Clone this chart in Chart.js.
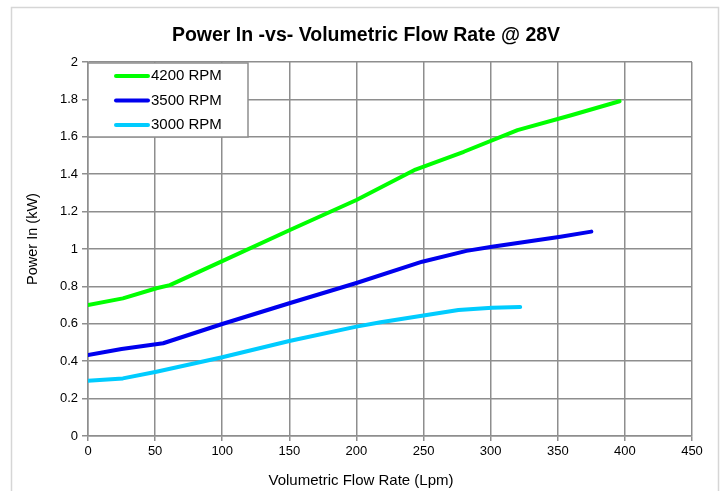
<!DOCTYPE html>
<html>
<head>
<meta charset="utf-8">
<script src="https://cdn.jsdelivr.net/npm/chart.js@4/dist/chart.umd.min.js"></script>
<style>
  html, body { margin: 0; padding: 0; background: #fff; }
  #wrap { width: 721px; height: 491px; }
</style>
</head>
<body>
<div id="wrap"><canvas id="powerChart" width="721" height="491"></canvas></div>
<script>
// values (flow in Lpm, power in kW)
const flow4200 = [0, 26, 51, 61, 100, 150, 200, 244, 280, 320, 360, 396];
const power4200 = [0.70, 0.736, 0.79, 0.807, 0.935, 1.10, 1.262, 1.425, 1.52, 1.636, 1.715, 1.79];

const flow3500 = [0, 25, 56, 100, 150, 200, 249, 282, 301, 352, 375];
const power3500 = [0.433, 0.465, 0.496, 0.599, 0.71, 0.818, 0.932, 0.99, 1.012, 1.066, 1.093];

const flow3000 = [0, 26, 51, 100, 150, 200, 218, 276, 301, 322];
const power3000 = [0.296, 0.308, 0.344, 0.421, 0.508, 0.585, 0.608, 0.674, 0.686, 0.69];

const seriesNames = ["4200 RPM", "3500 RPM", "3000 RPM"];
const seriesColors = ["#00ff00", "#0000ee", "#00ccff"];

const xTicks = [0, 50, 100, 150, 200, 250, 300, 350, 400, 450];
const yTicks = [0, 0.2, 0.4, 0.6, 0.8, 1, 1.2, 1.4, 1.6, 1.8, 2];

const chartTitle = "Power In -vs- Volumetric Flow Rate @ 28V";
const xTitle = "Volumetric Flow Rate (Lpm)";
const yTitle = "Power In (kW)";

const FONT = "Arial, 'Liberation Sans', sans-serif";
const GRID = "#8e8e8e";

function toPoints(xs, ys) {
  return xs.map((x, i) => ({ x: x, y: ys[i] }));
}

const lineData = [
  toPoints(flow4200, power4200),
  toPoints(flow3500, power3500),
  toPoints(flow3000, power3000)
];

// outer frame + titles (centred on the whole chart object, like the original)
const framePlugin = {
  id: "frame",
  beforeDraw(chart) {
    const ctx = chart.ctx;
    ctx.save();
    ctx.fillStyle = "#fff";
    ctx.fillRect(0, 0, chart.width, chart.height);
    ctx.strokeStyle = "#d6d6d6";
    ctx.lineWidth = 1.5;
    ctx.strokeRect(11.5, 7.5, 707, 500);
    ctx.restore();
  },
  afterDraw(chart) {
    const ctx = chart.ctx;
    ctx.save();
    ctx.fillStyle = "#000";
    ctx.textAlign = "center";
    ctx.textBaseline = "middle";
    ctx.font = "bold 19.5px " + FONT;
    ctx.fillText(chartTitle, 366, 36);
    ctx.font = "15px " + FONT;
    ctx.fillText(xTitle, 361, 481);
    ctx.translate(33, 239);
    ctx.rotate(-Math.PI / 2);
    ctx.font = "14.5px " + FONT;
    ctx.fillText(yTitle, 0, 0);
    ctx.restore();
  }
};

// legend box sitting in the top-left corner of the plot
const boxLegend = {
  id: "boxLegend",
  afterDatasetsDraw(chart) {
    const ctx = chart.ctx;
    const a = chart.chartArea;
    const x0 = a.left, y0 = a.top + 1;
    ctx.save();
    ctx.fillStyle = "#fff";
    ctx.fillRect(x0, y0, 160, 74);
    ctx.strokeStyle = GRID;
    ctx.lineWidth = 1.5;
    ctx.strokeRect(x0, y0, 160, 74);
    ctx.font = "15px " + FONT;
    ctx.textBaseline = "middle";
    chart.data.datasets.forEach((ds, i) => {
      const yy = y0 + 13 + i * 24.5;
      ctx.strokeStyle = ds.borderColor;
      ctx.lineWidth = 4;
      ctx.lineCap = "round";
      ctx.beginPath();
      ctx.moveTo(x0 + 28, yy);
      ctx.lineTo(x0 + 60, yy);
      ctx.stroke();
      ctx.fillStyle = "#000";
      ctx.fillText(ds.label, x0 + 63, yy);
    });
    ctx.restore();
  }
};

new Chart(document.getElementById("powerChart"), {
  type: "line",
  data: {
    datasets: lineData.map((pts, i) => ({
      label: seriesNames[i],
      data: pts,
      borderColor: seriesColors[i],
      backgroundColor: seriesColors[i],
      borderWidth: 4,
      pointRadius: 0,
      tension: 0,
      fill: false,
      borderCapStyle: "round",
      borderJoinStyle: "round"
    }))
  },
  options: {
    responsive: false,
    animation: false,
    devicePixelRatio: 1,
    layout: { padding: { left: 12, right: 29, top: 62, bottom: 0 } },
    plugins: {
      legend: { display: false },
      tooltip: { enabled: false },
      title: { display: false }
    },
    scales: {
      x: {
        type: "linear",
        min: 0,
        max: 450,
        afterBuildTicks(scale) { scale.ticks = xTicks.map(v => ({ value: v })); },
        afterFit(scale) { scale.height = 55; },
        ticks: { color: "#000", font: { family: FONT, size: 13 }, padding: 3, maxRotation: 0 },
        grid: { color: GRID, lineWidth: 1.5, tickLength: 5, tickColor: GRID },
        border: { color: GRID, width: 1.5 }
      },
      y: {
        min: 0,
        max: 2,
        afterBuildTicks(scale) { scale.ticks = yTicks.map(v => ({ value: v })); },
        afterFit(scale) { scale.width = 76; },
        ticks: {
          color: "#000",
          font: { family: FONT, size: 13 },
          padding: 4,
          callback: v => String(Math.round(v * 10) / 10)
        },
        grid: { color: GRID, lineWidth: 1.5, tickLength: 6, tickColor: GRID },
        border: { color: GRID, width: 1.5 }
      }
    }
  },
  plugins: [framePlugin, boxLegend]
});
</script>
</body>
</html>
